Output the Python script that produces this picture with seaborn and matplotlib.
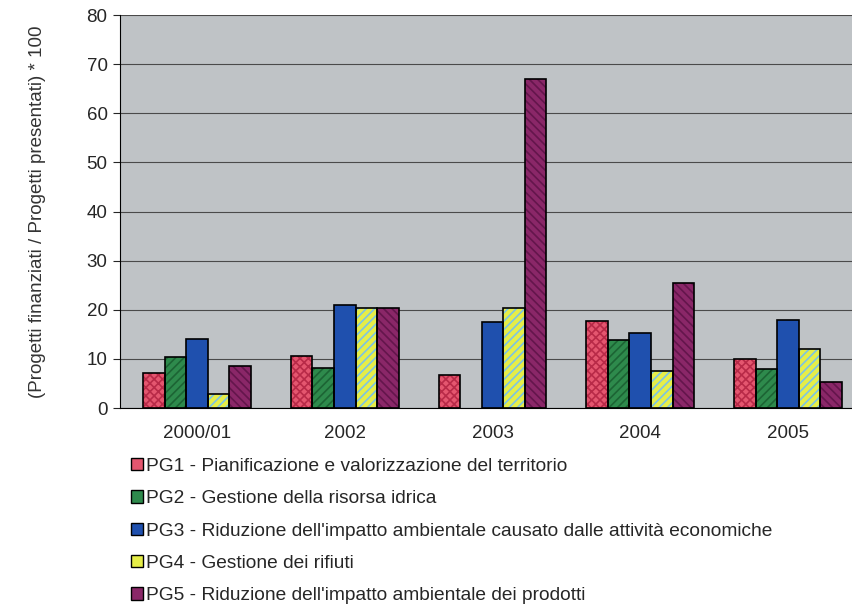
import pandas as pd
import matplotlib
matplotlib.use("Agg")
import matplotlib.pyplot as plt
from matplotlib.patches import Rectangle, Patch
import seaborn as sns

# dati
anni = ["2000/01", "2002", "2003", "2004", "2005"]
pg1 = [7.1, 10.6, 6.7, 17.8, 10.0]
pg2 = [10.4, 8.2, 0.0, 13.9, 8.0]
pg3 = [14.1, 21.0, 17.6, 15.3, 18.0]
pg4 = [2.9, 20.4, 20.4, 7.6, 12.0]
pg5 = [8.6, 20.4, 67.0, 25.5, 5.3]

etichette = [
    "PG1 - Pianificazione e valorizzazione del territorio",
    "PG2 - Gestione della risorsa idrica",
    "PG3 - Riduzione dell'impatto ambientale causato dalle attività economiche",
    "PG4 - Gestione dei rifiuti",
    "PG5 - Riduzione dell'impatto ambientale dei prodotti",
]

df = pd.DataFrame({"Anno": anni * 5,
                   "Gruppo": sum([[e] * 5 for e in etichette], []),
                   "Valore": pg1 + pg2 + pg3 + pg4 + pg5})

colori = ["#e4566f", "#2e8a4c", "#1f50ae", "#e6ee48", "#8a2768"]
tratteggi = ["xxxx", "////", "", "////", "\\\\\\\\"]
col_tratt = ["#b82a48", "#1c6434", "#1f50ae", "#7cc4e4", "#64164c"]

sns.set_style("white")
plt.rcParams["font.family"] = ["Liberation Sans", "DejaVu Sans"]
plt.rcParams["hatch.linewidth"] = 1.2

fig = plt.figure(figsize=(8.53, 6.05), dpi=100)
ax = fig.add_axes([0.1407, 0.3256, 0.8593, 0.6496])
ax.set_facecolor("#bfc3c6")

sns.barplot(data=df, x="Anno", y="Valore", hue="Gruppo", palette=colori,
            width=0.73, ax=ax, legend=False, saturation=1)

# tratteggio + bordo nero
for i, cont in enumerate(ax.containers):
    for p in cont.patches:
        p.set_hatch(tratteggi[i])
        p.set_edgecolor(col_tratt[i])
        p.set_linewidth(0)
        if p.get_height() > 0:
            ax.add_patch(Rectangle(p.get_xy(), p.get_width(), p.get_height(),
                                   facecolor="none", edgecolor="black", lw=1.2, zorder=3))

ax.set_ylim(0, 80)
ax.set_xlim(-0.521, 4.44)
ax.set_yticks(range(0, 81, 10))
ax.yaxis.grid(True, color="#4a4a4a", lw=0.8)
ax.set_axisbelow(True)
for s in ["top", "right"]:
    ax.spines[s].set_visible(False)
ax.spines["left"].set_color("black")
ax.spines["bottom"].set_color("black")
ax.tick_params(axis="y", left=True, length=5, width=0.8, labelsize=13.5, pad=4)
ax.tick_params(axis="x", bottom=False, labelsize=13.5, pad=9)
ax.set_xlabel("")
ax.set_ylabel("(Progetti finanziati / Progetti presentati) * 100", fontsize=13.5,
              color="#333333", labelpad=29)

maniglie = [Patch(facecolor=colori[i], edgecolor="black", lw=1.0) for i in range(5)]
fig.legend(maniglie, etichette, loc="upper left", bbox_to_anchor=(0.1536, 0.243),
           frameon=False, fontsize=13.8, handlelength=0.62, handleheight=0.62,
           handletextpad=0.15, labelspacing=0.8, borderaxespad=0, borderpad=0)

plt.savefig("out.png", dpi=100)
